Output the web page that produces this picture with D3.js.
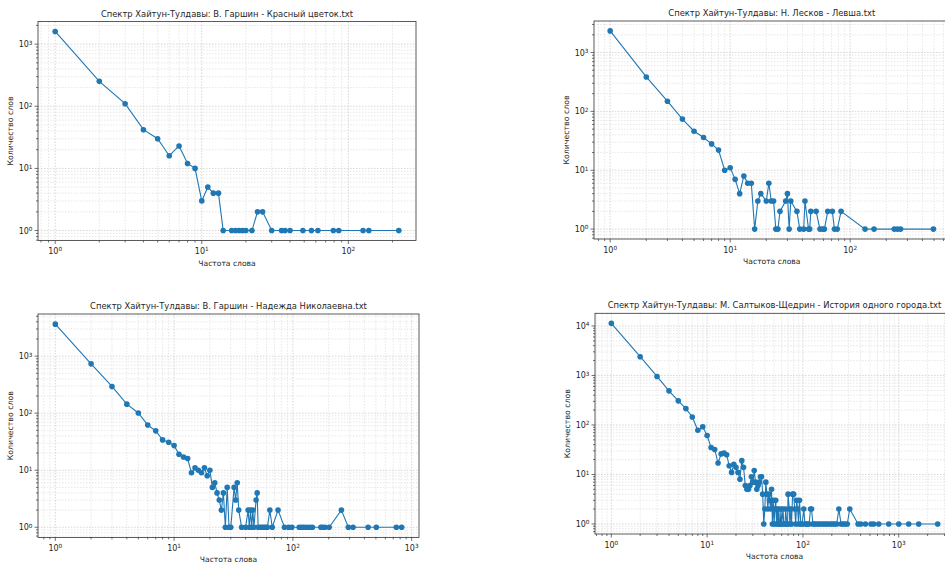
<!DOCTYPE html>
<html><head><meta charset="utf-8">
<script src="https://cdn.jsdelivr.net/npm/d3@7"></script>
<style>
body{margin:0;background:#fff}
svg{display:block}
text{font-family:"DejaVu Sans",sans-serif;fill:#262626}
</style>
</head><body>
<svg id="c" width="945" height="565"></svg>
<script>
// ---------- data ----------
const titles = [
  "Спектр Хайтун-Тулдавы: В. Гаршин - Красный цветок.txt",
  "Спектр Хайтун-Тулдавы: Н. Лесков - Левша.txt",
  "Спектр Хайтун-Тулдавы: В. Гаршин - Надежда Николаевна.txt",
  "Спектр Хайтун-Тулдавы: М. Салтыков-Щедрин - История одного города.txt"
];
const xLabel = "Частота слова";
const yLabel = "Количество слов";

const freq1  = [1,2,3,4,5,6,7,8,9,10,11,12,13,14,16,17,18,19,20,22,24,26,30,35,37,40,49,56,62,79,86,126,138,221];
const count1 = [1600,252,110,42,30,16,23,12,10,3,5,4,4,1,1,1,1,1,1,1,2,2,1,1,1,1,1,1,1,1,1,1,1,1];

const freq2  = [1,2,3,4,5,6,7,8,9,10,11,12,13,14,15,16,17,18,20,21,22,23,24,25,26,29,30,31,32,36,38,41,42,45,46,47,52,56,59,61,65,71,74,78,84,133,158,233,248,263,494];
const count2 = [2330,385,149,74,46,36,28,22,10,11,7,4,8,6,6,1,3,4,3,6,3,3,1,1,2,3,4,1,3,2,1,1,3,1,1,2,2,1,1,1,2,2,1,1,2,1,1,1,1,1,1];

const freq3  = [1,2,3,4,5,6,7,8,9,10,11,12,13,14,15,16,17,18,19,20,21,22,23,24,25,26,27,28,29,30,32,33,34,35,37,40,42,43,44,45,46,47,49,50,51,53,55,57,59,61,64,67,75,85,92,98,113,119,124,131,139,146,172,177,186,202,256,293,321,430,504,743,824];
const count3 = [3640,733,294,144,101,62,49,34,31,27,19,17,16,9,11,10,9,11,8,10,5,6,4,3,2,4,1,5,1,1,5,3,6,2,1,1,2,1,2,1,2,1,3,4,1,1,1,1,1,1,2,1,2,1,1,1,1,1,1,1,1,1,1,1,1,1,2,1,1,1,1,1,1];

const freq4  = [1,2,3,4,5,6,7,8,9,10,11,12,13,14,15,16,17,18,19,20,21,22,23,24,25,26,27,28,29,30,31,32,33,34,35,36,37,38,39,40,41,42,43,44,45,46,47,48,49,50,51,52,53,54,55,56,57,58,59,60,62,63,65,66,68,69,70,72,73,75,76,78,80,82,84,86,88,90,92,95,98,102,105,108,112,116,120,123,127,132,138,145,152,160,168,176,185,195,205,215,225,237,250,262,275,290,308,376,401,449,514,548,618,786,1000,1270,1615,2548];
const count4 = [11300,2390,955,489,307,214,145,78,92,61,35,32,17,26,27,25,15,11,16,14,11,8,19,14,6,5,5,6,9,7,12,7,5,6,7,9,9,4,1,2,7,4,2,4,3,2,5,1,3,1,2,3,1,2,1,2,1,1,2,1,2,1,1,2,1,1,4,2,1,2,1,4,4,2,1,3,2,1,3,1,1,2,1,1,1,1,2,2,1,1,1,1,1,1,1,1,1,1,1,1,1,2,1,1,1,1,2,1,1,1,1,1,1,1,1,1,1,1];

const seriesFreq  = [freq1, freq2, freq3, freq4];
const seriesCount = [count1, count2, count3, count4];

// ---------- layout ----------
const boxes = [
  {l:38,  r:416,   t:21.5, b:240.5},
  {l:594, r:949.6, t:21,   b:239},
  {l:38,  r:419,   t:314,  b:537.4},
  {l:595, r:954,   t:313.3,b:534}
];
const color = "#1f77b4";
const svg = d3.select("#c");

function logDomain(vals){
  const lo = Math.log10(d3.min(vals)), hi = Math.log10(d3.max(vals));
  const m = (hi - lo) * 0.05;
  return [Math.pow(10, lo - m), Math.pow(10, hi + m)];
}
function tickVals(dom){
  const major = [], minor = [];
  const k0 = Math.floor(Math.log10(dom[0])), k1 = Math.ceil(Math.log10(dom[1]));
  for (let k = k0; k <= k1; k++){
    for (let m = 1; m <= 9; m++){
      const v = m * Math.pow(10, k);
      if (v >= dom[0] && v <= dom[1]) (m === 1 ? major : minor).push(v);
    }
  }
  return {major, minor};
}
function supLabel(sel, v){
  const e = Math.round(Math.log10(v));
  sel.text("10");
  sel.append("tspan").attr("dy", "-0.45em").attr("font-size", "0.72em").text(e);
}

boxes.forEach((bx, i) => {
  const X = seriesFreq[i], Y = seriesCount[i];
  const data = X.map((f, j) => ({f, c: Y[j]}));
  const xs = d3.scaleLog().domain(logDomain(X)).range([bx.l, bx.r]);
  const ys = d3.scaleLog().domain(logDomain(Y)).range([bx.b, bx.t]);
  const g = svg.append("g");
  const clipId = "clip" + i;
  g.append("clipPath").attr("id", clipId).append("rect")
    .attr("x", bx.l).attr("y", bx.t).attr("width", bx.r - bx.l).attr("height", bx.b - bx.t);

  const xt = tickVals(xs.domain()), yt = tickVals(ys.domain());
  const grid = g.append("g").attr("clip-path", `url(#${clipId})`);
  const minorStyle = s => s.attr("stroke", "#d6d6d6").attr("stroke-width", 0.6).attr("stroke-dasharray", "1.5,1.5");
  const majorStyle = s => s.attr("stroke", "#cccccc").attr("stroke-width", 0.8).attr("stroke-dasharray", "1.5,1.5");
  grid.selectAll(".gxm").data(xt.minor).join("line")
    .attr("x1", d => xs(d)).attr("x2", d => xs(d)).attr("y1", bx.t).attr("y2", bx.b).call(minorStyle);
  grid.selectAll(".gym").data(yt.minor).join("line")
    .attr("y1", d => ys(d)).attr("y2", d => ys(d)).attr("x1", bx.l).attr("x2", bx.r).call(minorStyle);
  grid.selectAll(".gxM").data(xt.major).join("line")
    .attr("x1", d => xs(d)).attr("x2", d => xs(d)).attr("y1", bx.t).attr("y2", bx.b).call(majorStyle);
  grid.selectAll(".gyM").data(yt.major).join("line")
    .attr("y1", d => ys(d)).attr("y2", d => ys(d)).attr("x1", bx.l).attr("x2", bx.r).call(majorStyle);

  // series
  const line = d3.line().x(d => xs(d.f)).y(d => ys(d.c));
  g.append("path").datum(data).attr("d", line)
    .attr("fill", "none").attr("stroke", color).attr("stroke-width", 1.1);
  g.selectAll("circle").data(data).join("circle")
    .attr("cx", d => xs(d.f)).attr("cy", d => ys(d.c)).attr("r", 2.8).attr("fill", color);

  // frame
  g.append("rect").attr("x", bx.l).attr("y", bx.t).attr("width", bx.r - bx.l).attr("height", bx.b - bx.t)
    .attr("fill", "none").attr("stroke", "#333").attr("stroke-width", 0.8);

  // ticks
  const tk = g.append("g").attr("stroke", "#333").attr("stroke-width", 0.7);
  xt.major.forEach(v => tk.append("line").attr("x1", xs(v)).attr("x2", xs(v)).attr("y1", bx.b).attr("y2", bx.b + 3.5));
  xt.minor.forEach(v => tk.append("line").attr("x1", xs(v)).attr("x2", xs(v)).attr("y1", bx.b).attr("y2", bx.b + 2));
  yt.major.forEach(v => tk.append("line").attr("y1", ys(v)).attr("y2", ys(v)).attr("x1", bx.l).attr("x2", bx.l - 3.5));
  yt.minor.forEach(v => tk.append("line").attr("y1", ys(v)).attr("y2", ys(v)).attr("x1", bx.l).attr("x2", bx.l - 2));

  xt.major.forEach(v => {
    const t = g.append("text").attr("x", xs(v)).attr("y", bx.b + 13.5).attr("text-anchor", "middle").attr("font-size", 8);
    supLabel(t, v);
  });
  yt.major.forEach(v => {
    const t = g.append("text").attr("x", bx.l - 5.5).attr("y", ys(v) + 3).attr("text-anchor", "end").attr("font-size", 8);
    supLabel(t, v);
  });

  // labels
  const cx = (bx.l + bx.r) / 2, cy = (bx.t + bx.b) / 2;
  g.append("text").attr("x", cx).attr("y", bx.t - 5).attr("text-anchor", "middle").attr("font-size", 8.4).text(titles[i]);
  g.append("text").attr("x", cx).attr("y", bx.b + 25).attr("text-anchor", "middle").attr("font-size", 7.6).text(xLabel);
  g.append("text").attr("transform", `translate(${bx.l - 25},${cy}) rotate(-90)`)
    .attr("text-anchor", "middle").attr("font-size", 7.8).text(yLabel);
});
</script>
</body></html>
